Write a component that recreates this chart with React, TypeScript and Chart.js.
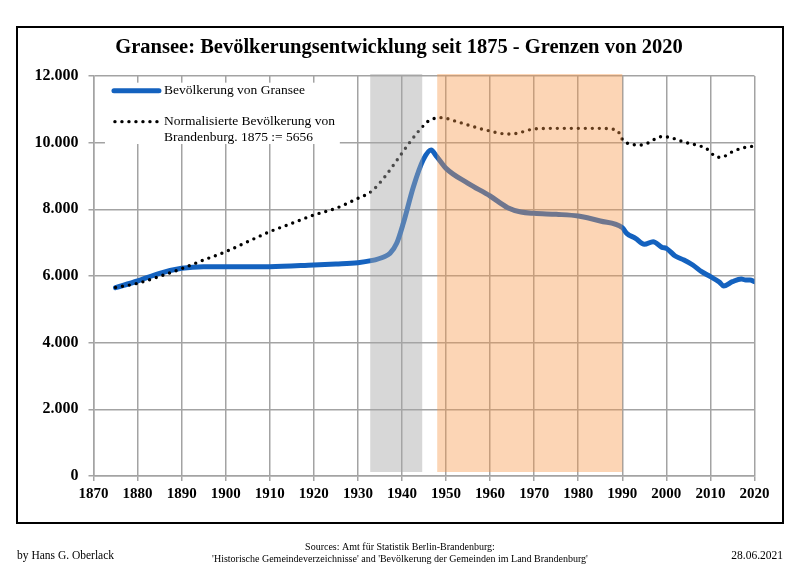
import React, { useEffect, useRef } from 'react';
import { Chart, registerables } from 'chart.js';

Chart.register(...registerables);

const titleText = 'Gransee: Bevölkerungsentwicklung seit 1875 - Grenzen von 2020';

const granseeYears = [
  1875, 1880, 1885, 1890, 1895, 1900, 1910, 1920, 1925, 1930, 1933, 1936, 1937.3, 1938.8, 1940.3, 1942.6,
  1944.8, 1946.6, 1947.9, 1950, 1955, 1960, 1964, 1967, 1970, 1975, 1980, 1985, 1990, 1991, 1993, 1995,
  1997, 1999, 2000, 2002, 2004, 2006, 2008, 2010, 2012, 2013, 2015, 2017, 2018, 2019, 2020,
];
const granseeValues = [
  5650, 5850, 6080, 6230, 6280, 6280, 6280, 6330, 6360, 6400, 6460, 6580, 6680, 6980, 7580, 8680,
  9480, 9780, 9580, 9230, 8780, 8400, 8050, 7920, 7880, 7850, 7800, 7650, 7450, 7280, 7130, 6950,
  7030, 6860, 6830, 6600, 6480, 6330, 6130, 5980, 5820, 5700, 5830, 5910, 5880, 5880, 5830,
];

const brandenburgYears = [
  1875, 1880, 1885, 1890, 1895, 1900, 1905, 1910, 1915, 1920, 1925, 1930, 1933, 1936, 1939, 1942,
  1944, 1946, 1949, 1952, 1955, 1959, 1964, 1966, 1970, 1975, 1980, 1985, 1988, 1989, 1990, 1992,
  1994, 1996, 1998, 1999, 2001, 2004, 2007, 2009, 2011, 2012, 2013, 2015, 2017, 2018, 2020,
];
const brandenburgValues = [
  5656, 5780, 5990, 6220, 6480, 6730, 7030, 7330, 7580, 7830, 8030, 8330, 8530, 8960, 9500, 10050,
  10380, 10650, 10750, 10650, 10530, 10380, 10260, 10280, 10410, 10430, 10430, 10430, 10400, 10350, 10100, 9950,
  9930, 10000, 10150, 10180, 10150, 10020, 9920, 9830, 9600, 9560, 9580, 9730, 9830, 9860, 9900,
];

const grayBand = [1932.8, 1944.6];
const orangeBand = [1948, 1990];

const yTickValues = [0, 2000, 4000, 6000, 8000, 10000, 12000];
const yTickLabels = ['0', '2.000', '4.000', '6.000', '8.000', '10.000', '12.000'];

const legendLabels = ['Bevölkerung von Gransee', 'Normalisierte Bevölkerung von', 'Brandenburg. 1875 := 5656'];
const footerLeft = 'by Hans G. Oberlack';
const footerSources = [
  'Sources: Amt für Statistik Berlin-Brandenburg:',
  "'Historische Gemeindeverzeichnisse' and 'Bevölkerung der Gemeinden im Land Brandenburg'",
];
const footerDate = '28.06.2021';

const SERIF = '"Liberation Serif", "Times New Roman", serif';
const BLUE = '#1462bf';
const GRID = '#a3a3a3';

const decorPlugin = {
  id: 'decor',
  beforeDraw(chart: any) {
    const ctx = chart.ctx;
    ctx.save();
    ctx.fillStyle = '#ffffff';
    ctx.fillRect(0, 0, chart.width, chart.height);
    ctx.restore();
  },
  afterDatasetsDraw(chart: any) {
    const ctx = chart.ctx;
    const x = chart.scales.x;
    const y = chart.scales.y;
    ctx.save();
    // bands overlaid on the lines
    const bTop = y.getPixelForValue(12060);
    const bBot = y.getPixelForValue(120);
    ctx.fillStyle = 'rgba(166,166,166,0.45)';
    const g0 = x.getPixelForValue(grayBand[0]);
    const g1 = x.getPixelForValue(grayBand[1]);
    ctx.fillRect(g0, bTop, g1 - g0, bBot - bTop);
    ctx.fillStyle = 'rgba(247,150,70,0.4)';
    const o0 = x.getPixelForValue(orangeBand[0]);
    const o1 = x.getPixelForValue(orangeBand[1]);
    ctx.fillRect(o0, bTop, o1 - o0, bBot - bTop);

    // legend box
    const lx0 = x.getPixelForValue(1872.6);
    const lx1 = x.getPixelForValue(1925.9);
    const ly0 = y.getPixelForValue(11800);
    const ly1 = y.getPixelForValue(9960);
    ctx.fillStyle = '#ffffff';
    ctx.fillRect(lx0, ly0, lx1 - lx0, ly1 - ly0);

    const sx0 = lx0 + 9;
    const sx1 = lx0 + 54;
    const row1 = ly0 + 8;
    const row2 = ly0 + 39;
    const row3 = ly0 + 55;
    ctx.strokeStyle = BLUE;
    ctx.lineWidth = 5;
    ctx.lineCap = 'round';
    ctx.beginPath();
    ctx.moveTo(sx0, row1);
    ctx.lineTo(sx1, row1);
    ctx.stroke();

    ctx.fillStyle = '#000';
    for (let i = 0; i < 7; i++) {
      ctx.beginPath();
      ctx.arc(sx0 + 1 + i * 7, row2, 1.7, 0, Math.PI * 2);
      ctx.fill();
    }
    ctx.font = `13.5px ${SERIF}`;
    ctx.textAlign = 'left';
    ctx.textBaseline = 'middle';
    ctx.fillText(legendLabels[0], lx0 + 59, row1);
    ctx.fillText(legendLabels[1], lx0 + 59, row2);
    ctx.fillText(legendLabels[2], lx0 + 59, row3);

    // outer frame
    ctx.strokeStyle = '#000';
    ctx.lineWidth = 2;
    ctx.lineCap = 'butt';
    ctx.strokeRect(17, 27, 766, 496);

    // title
    ctx.font = `bold 20.5px ${SERIF}`;
    ctx.textAlign = 'center';
    ctx.textBaseline = 'middle';
    ctx.fillText(titleText, 399, 48);

    // footer
    ctx.font = `11.5px ${SERIF}`;
    ctx.textAlign = 'left';
    ctx.fillText(footerLeft, 17, 556);
    ctx.textAlign = 'right';
    ctx.fillText(footerDate, 783, 556);
    ctx.font = `10px ${SERIF}`;
    ctx.textAlign = 'center';
    ctx.fillText(footerSources[0], 400, 547);
    ctx.fillText(footerSources[1], 400, 559);
    ctx.restore();
  },
};

export default function App() {
  const canvasRef = useRef<HTMLCanvasElement | null>(null);

  useEffect(() => {
    const canvas = canvasRef.current;
    if (!canvas) return;
    const chart = new Chart(canvas, {
      type: 'line',
      data: {
        datasets: [
          {
            label: legendLabels[1] + ' ' + legendLabels[2],
            data: brandenburgYears.map((yr, i) => ({ x: yr, y: brandenburgValues[i] })),
            borderColor: '#000000',
            borderWidth: 3.4,
            borderDash: [0, 7],
            borderCapStyle: 'round',
            cubicInterpolationMode: 'monotone',
            pointRadius: 0,
            fill: false,
            order: 0,
          },
          {
            label: legendLabels[0],
            data: granseeYears.map((yr, i) => ({ x: yr, y: granseeValues[i] })),
            borderColor: BLUE,
            borderWidth: 5,
            borderCapStyle: 'round',
            borderJoinStyle: 'round',
            cubicInterpolationMode: 'monotone',
            pointRadius: 0,
            fill: false,
            order: 1,
          },
        ],
      },
      options: {
        responsive: false,
        animation: false,
        devicePixelRatio: 1,
        layout: { padding: { left: 0, right: 45.5, top: 76, bottom: 60 } },
        plugins: {
          legend: { display: false },
          title: { display: false },
          tooltip: { enabled: false },
        },
        scales: {
          x: {
            type: 'linear',
            min: 1870,
            max: 2020,
            ticks: {
              stepSize: 10,
              autoSkip: false,
              maxRotation: 0,
              padding: 4,
              color: '#000',
              font: { family: SERIF, size: 15, weight: 'bold' },
              callback: (v: any) => String(v),
            },
            grid: { color: GRID, lineWidth: 1.5, tickLength: 5, tickColor: GRID },
            border: { color: GRID, width: 1.5 },
            afterFit: (s: any) => {
              s.height = 30;
            },
          },
          y: {
            type: 'linear',
            min: 0,
            max: 12000,
            afterBuildTicks: (s: any) => {
              s.ticks = yTickValues.map((v) => ({ value: v }));
            },
            ticks: {
              padding: 10,
              color: '#000',
              font: { family: SERIF, size: 16, weight: 'bold' },
              callback: (v: any) => {
                const i = yTickValues.indexOf(Number(v));
                return i >= 0 ? yTickLabels[i] : '';
              },
            },
            grid: { color: GRID, lineWidth: 1.5, tickLength: 5, tickColor: GRID },
            border: { color: GRID, width: 1.5 },
            afterFit: (s: any) => {
              s.width = 93.5;
            },
          },
        },
      } as any,
      plugins: [decorPlugin],
    });
    return () => chart.destroy();
  }, []);

  return (
    <div style={{ position: 'absolute', left: 0, top: 0, width: 800, height: 566, background: '#fff' }}>
      <canvas ref={canvasRef} width={800} height={566} style={{ display: 'block', width: 800, height: 566 }} />
    </div>
  );
}
